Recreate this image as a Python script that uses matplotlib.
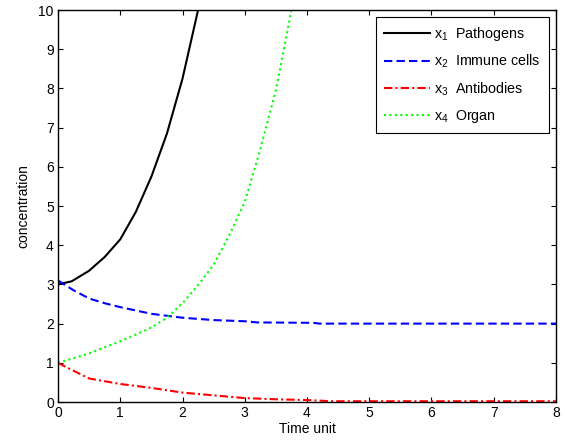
import matplotlib
matplotlib.use("Agg")
import matplotlib.pyplot as plt

plt.rcParams['font.family'] = ['Liberation Sans', 'DejaVu Sans']
plt.rcParams['mathtext.fontset'] = 'custom'
plt.rcParams['mathtext.rm'] = 'Liberation Sans'

# values
t_x1 = [0, 0.22, 0.5, 0.75, 1.0, 1.25, 1.5, 1.75, 2.0, 2.25, 2.5]
x1 = [3.0, 3.08, 3.35, 3.7, 4.15, 4.85, 5.75, 6.85, 8.25, 10.0, 12.0]

t_x2 = [0, 0.25, 0.5, 0.75, 1.0, 1.5, 2.0, 2.5, 3.0, 3.2, 4.1, 4.2, 5, 6, 7, 8]
x2 = [3.1, 2.85, 2.64, 2.52, 2.42, 2.25, 2.15, 2.09, 2.06, 2.03, 2.02, 2.0, 2.0, 2.0, 2.0, 2.0]

t_x3 = [0, 0.17, 0.5, 1.0, 1.5, 2.0, 2.5, 3.0, 3.5, 4.0, 4.4, 5, 6, 7, 8]
x3 = [1.0, 0.86, 0.6, 0.46, 0.36, 0.24, 0.17, 0.1, 0.07, 0.05, 0.02, 0.02, 0.02, 0.02, 0.02]

t_x4 = [0, 0.5, 1.0, 1.25, 1.5, 1.75, 2.0, 2.25, 2.5, 2.75, 3.0, 3.25, 3.5, 3.75, 4.0]
x4 = [1.0, 1.24, 1.55, 1.72, 1.9, 2.15, 2.52, 2.98, 3.5, 4.25, 5.1, 6.45, 7.95, 10.0, 12.5]

labels = [r'x$\mathregular{_1}$  Pathogens', r'x$\mathregular{_2}$  Immune cells',
          r'x$\mathregular{_3}$  Antibodies', r'x$\mathregular{_4}$  Organ']

fig = plt.figure(figsize=(5.65, 4.45), dpi=100)
ax = fig.add_axes([0.1027, 0.0966, 0.8813, 0.8809])

ax.plot(t_x1, x1, color='black', lw=1.5, ls='-', label=labels[0])
ax.plot(t_x2, x2, color='blue', lw=1.5, ls=(0, (4, 2)), label=labels[1])
ax.plot(t_x3, x3, color='red', lw=1.5, ls=(0, (4, 1.5, 1, 1.5)), label=labels[2])
ax.plot(t_x4, x4, color='#00ff00', lw=1.5, ls=(0, (1, 1.6)), label=labels[3])

ax.set_xlim(0, 8)
ax.set_ylim(0, 10)
ax.set_xticks(range(0, 9))
ax.set_yticks(range(0, 11))
ax.tick_params(direction='in', length=3.5, width=0.8, top=True, right=True, labelsize=10, pad=3)
for s in ax.spines.values():
    s.set_linewidth(1.0)

ax.set_xlabel('Time unit', fontsize=10, labelpad=1)
ax.set_ylabel('concentration', fontsize=10, labelpad=6)

leg = ax.legend(loc='upper right', fontsize=10.3, fancybox=False, framealpha=1,
                edgecolor='black', handlelength=3.2, borderaxespad=0.5,
                labelspacing=0.7, handletextpad=0.3, borderpad=0.55)
leg.get_frame().set_linewidth(0.8)

fig.savefig('out.png', dpi=100)
